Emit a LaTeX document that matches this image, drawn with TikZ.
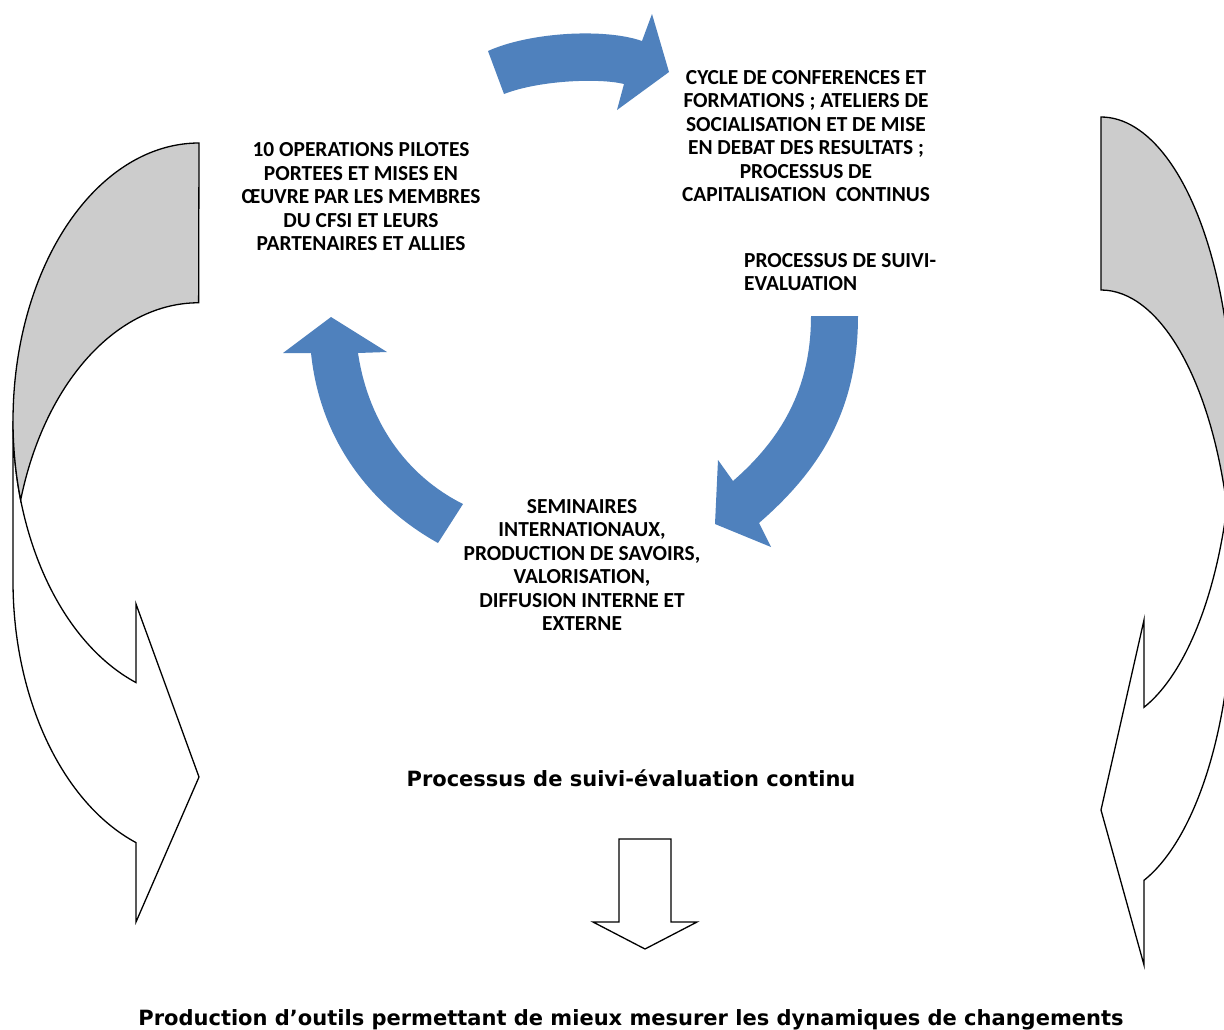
\documentclass[tikz,border=0pt]{standalone}
\usepackage{fontspec}
\newfontfamily\calfont{Carlito}
\newfontfamily\verdfont{DejaVu Sans}
\definecolor{blueA}{RGB}{79,129,189}
\definecolor{grayA}{RGB}{204,204,204}
\begin{document}
\begin{tikzpicture}[x=1pt,y=-1pt,
  outl/.style={draw=black,line width=1.3pt,line join=miter},
  bluearrow/.style={fill=blueA,draw=none},
  captext/.style={font=\calfont\bfseries\fontsize{21.4}{23.5}\selectfont,align=center,inner sep=0pt},
  boldtext/.style={font=\verdfont\bfseries\fontsize{21}{24}\selectfont,inner sep=0pt}]
\clip (0,0) rectangle (1224,1029);
\fill[white] (0,0) rectangle (1224,1029);

% left curved arrow (front, white)
\draw[outl,fill=white] (13,421) arc[start angle=180,end angle=250.2,x radius=186pt,y radius=278pt]
  -- (136,604) -- (199,777) -- (136,922) -- (136,842.6)
  arc[start angle=250.2,end angle=180,x radius=186pt,y radius=278pt] -- cycle;
% left curved arrow (back, gray)
\draw[outl,fill=grayA] (199,143) arc[start angle=90,end angle=196.5,x radius=186pt,y radius=278pt]
  arc[start angle=163.1,end angle=90,x radius=186pt,y radius=278pt] -- cycle;

% right curved arrow (front, white)
\draw[outl,fill=white] (1232.4,420.5) arc[start angle=0,end angle=-70.9,x radius=131.4pt,y radius=303.5pt]
  -- (1144,620) -- (1101,810) -- (1144,965) -- (1144,880.3)
  arc[start angle=-70.9,end angle=0,x radius=131.4pt,y radius=303.5pt] -- cycle;
% right curved arrow (back, gray)
\draw[outl,fill=grayA] (1101,117) arc[start angle=90,end angle=-16.56,x radius=131.4pt,y radius=303.5pt]
  arc[start angle=16.56,end angle=90,x radius=131.4pt,y radius=303.5pt] -- cycle;

% blue cycle arrows
\fill[bluearrow] (488,51) .. controls (530,32) and (605,28) .. (642,41)
  -- (652,14) -- (669,72) -- (617,110) -- (624,84)
  .. controls (600,78) and (540,80) .. (504,94) -- cycle;
\fill[bluearrow] (811,316) -- (858,316) .. controls (858,410) and (820,470) .. (759,523)
  -- (771,547) -- (715,524) -- (718,460) -- (733,481)
  .. controls (780,440) and (811,390) .. (811,316) -- cycle;
\fill[bluearrow] (463,504) -- (438,543) .. controls (370,505) and (320,440) .. (311,353)
  -- (283,353) -- (331,317) -- (387,352) -- (358,353)
  .. controls (368,420) and (405,475) .. (463,504) -- cycle;

% bottom block arrow
\draw[outl,fill=white] (619,839) -- (671,839) -- (671,922) -- (697,922) -- (645,949) -- (593,922) -- (619,922) -- cycle;

% texts
\node[captext] (ops) at (361,197) {10 OPERATIONS PILOTES\\PORTEES ET MISES EN\\ŒUVRE PAR LES MEMBRES\\DU CFSI ET LEURS\\PARTENAIRES ET ALLIES};
\node[captext] (cyc) at (806,136) {CYCLE DE CONFERENCES ET\\FORMATIONS ; ATELIERS DE\\SOCIALISATION ET DE MISE\\EN DEBAT DES RESULTATS ;\\PROCESSUS DE\\CAPITALISATION~ CONTINUS};
\node[captext,align=left,anchor=west] (pse) at (744,272) {PROCESSUS DE SUIVI-\\EVALUATION};
\node[captext] (sem) at (582,565) {SEMINAIRES\\INTERNATIONAUX,\\PRODUCTION DE SAVOIRS,\\VALORISATION,\\DIFFUSION INTERNE ET\\EXTERNE};
\node[boldtext] (cont) at (631,778) {Processus de suivi-évaluation continu};
\node[boldtext] (prod) at (631,1020) {Production d’outils permettant de mieux mesurer les dynamiques de changements};
\end{tikzpicture}
\end{document}
